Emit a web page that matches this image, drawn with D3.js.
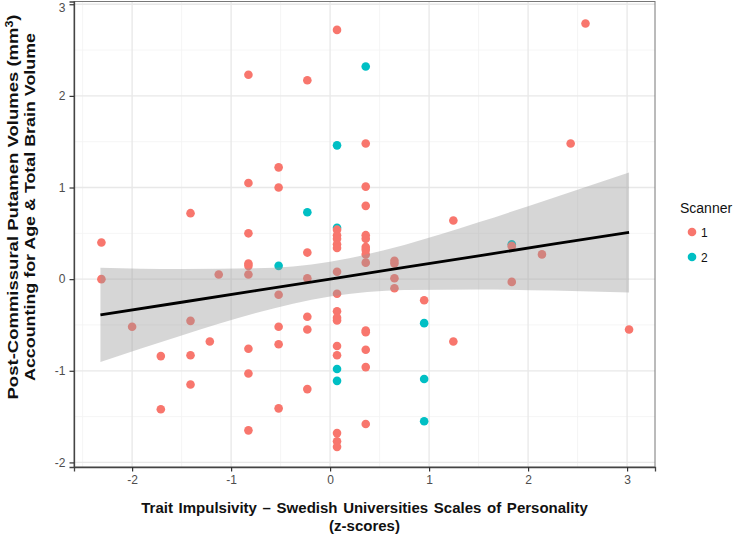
<!DOCTYPE html>
<html><head><meta charset="utf-8">
<script src="https://cdn.jsdelivr.net/npm/d3@7"></script>
<style>body{margin:0;background:#fff} text{font-family:Arial,"Liberation Sans",sans-serif}</style>
</head><body><svg id="c" width="740" height="540"></svg>
<script>
// Scanner 1 points
const s1X = [-2.31,-2.31,-2.00,-1.71,-1.71,-1.41,-1.41,-1.41,-1.41,-1.215,-1.125,
  -0.825,-0.825,-0.825,-0.825,-0.825,-0.825,-0.825,-0.825,-0.825,
  -0.52,-0.52,-0.52,-0.52,-0.52,-0.52,
  -0.23,-0.23,-0.23,-0.23,-0.23,-0.23,
  0.07,0.07,0.07,0.07,0.07,0.07,0.07,0.07,0.07,0.07,0.07,0.07,0.07,0.07,0.07,0.07,
  0.36,0.36,0.36,0.36,0.36,0.36,0.36,0.36,0.36,0.36,0.36,0.36,0.36,0.36,
  0.65,0.65,0.65,0.65,0.95,1.245,1.245,1.835,1.835,2.14,2.43,2.58,3.02];
const s1Y = [0.40,0.00,-0.52,-0.84,-1.42,0.72,-0.455,-0.83,-1.15,-0.68,0.05,
  2.23,1.05,0.50,0.17,0.145,0.05,-0.76,-1.03,-1.65,
  1.22,1.00,-0.17,-0.52,-0.71,-1.41,
  2.17,0.29,0.01,-0.41,-0.55,-1.20,
  2.72,0.54,0.48,0.44,0.38,0.34,0.08,-0.16,-0.35,-0.42,-0.45,-0.73,-0.83,-1.68,-1.77,-1.83,
  1.48,1.01,0.80,0.48,0.44,0.35,0.32,0.27,0.18,-0.56,-0.58,-0.77,-0.96,-1.58,
  0.20,0.17,0.01,-0.10,-0.23,0.64,-0.68,0.36,-0.03,0.27,1.48,2.79,-0.55];
// Scanner 2 points
const s2X = [-0.52,-0.23,0.07,0.07,0.07,0.07,0.36,0.95,0.95,0.95,1.835];
const s2Y = [0.145,0.73,1.46,0.56,-0.98,-1.11,2.32,-0.48,-1.09,-1.55,0.38];
// linear fit with 95% band
const fitX     = [-2.32,-1.5,-0.75,0,0.75,1.5,2.25,3.02];
const fitY     = [-0.39,-0.252,-0.126,0.001,0.128,0.254,0.381,0.51];
const fitLower = [-0.905,-0.615,-0.37,-0.189,-0.118,-0.112,-0.124,-0.145];
const fitUpper = [0.125,0.111,0.118,0.191,0.374,0.62,0.886,1.165];
const xTicks = [-2,-1,0,1,2,3];
const yTicks = [-2,-1,0,1,2,3];
const legendLabels = ["1","2"];
const colors = ["#F8766D","#00BFC4"];

const svg = d3.select("#c");
const L=74, R=655, T=1.5, B=467;
const x = d3.scaleLinear().domain([-2.587,3.282]).range([L,R]);
const y = d3.scaleLinear().domain([-2.05,3.03]).range([B,T]);

// grid
const g = svg.append("g");
const minorX = d3.range(-2.5,3.5,1), minorY = d3.range(-1.5,3.0,1);
g.selectAll(".mx").data(minorX).join("line").attr("x1",d=>x(d)).attr("x2",d=>x(d)).attr("y1",T).attr("y2",B).attr("stroke","#f2f2f2").attr("stroke-width",0.8);
g.selectAll(".my").data(minorY).join("line").attr("y1",d=>y(d)).attr("y2",d=>y(d)).attr("x1",L).attr("x2",R).attr("stroke","#f2f2f2").attr("stroke-width",0.8);
g.selectAll(".Mx").data(xTicks).join("line").attr("x1",d=>x(d)).attr("x2",d=>x(d)).attr("y1",T).attr("y2",B).attr("stroke","#e8e8e8").attr("stroke-width",1.3);
g.selectAll(".My").data(yTicks).join("line").attr("y1",d=>y(d)).attr("y2",d=>y(d)).attr("x1",L).attr("x2",R).attr("stroke","#e8e8e8").attr("stroke-width",1.3);

// points: scanner 2 first, then scanner 1
svg.append("g").selectAll("circle").data(s2X.map((d,i)=>[d,s2Y[i]])).join("circle")
  .attr("cx",d=>x(d[0])).attr("cy",d=>y(d[1])).attr("r",4.3).attr("fill",colors[1]);
svg.append("g").selectAll("circle").data(s1X.map((d,i)=>[d,s1Y[i]])).join("circle")
  .attr("cx",d=>x(d[0])).attr("cy",d=>y(d[1])).attr("r",4.3).attr("fill",colors[0]);

// band & line
const band = fitX.map((d,i)=>({x:d,lo:fitLower[i],hi:fitUpper[i],f:fitY[i]}));
svg.append("path").datum(band)
  .attr("d",d3.area().x(d=>x(d.x)).y0(d=>y(d.lo)).y1(d=>y(d.hi)).curve(d3.curveMonotoneX))
  .attr("fill","#999999").attr("fill-opacity",0.4);
svg.append("path").datum(band)
  .attr("d",d3.line().x(d=>x(d.x)).y(d=>y(d.f)))
  .attr("fill","none").attr("stroke","#000").attr("stroke-width",2.8);

// border
svg.append("rect").attr("x",L).attr("y",T).attr("width",R-L).attr("height",B-T)
  .attr("fill","none").attr("stroke","#777").attr("stroke-width",1);

// axes
const ax = svg.append("g").attr("transform",`translate(0,${B})`)
  .call(d3.axisBottom(x).tickValues(xTicks).tickSize(4.5).tickPadding(4).tickFormat(d3.format("d")));
const ay = svg.append("g").attr("transform",`translate(${L},0)`)
  .call(d3.axisLeft(y).tickValues(yTicks).tickSize(4.5).tickPadding(4).tickFormat(d3.format("d")));
[ax,ay].forEach(a=>{
  a.select(".domain").attr("stroke","#444").attr("stroke-width",1.3);
  a.selectAll(".tick line").attr("stroke","#333").attr("stroke-width",1.2);
  a.selectAll(".tick text").attr("fill","#4d4d4d").style("font-size","12px").style("font-family","Arial,'Liberation Sans',sans-serif");
});
ax.selectAll(".tick text").text(d=>d<0?"-"+Math.abs(d):d);
ay.selectAll(".tick text").text(d=>d<0?"-"+Math.abs(d):d);
// keep the top label inside the picture
ay.selectAll(".tick text").filter(d=>d===3).attr("dy","0.62em");

// titles
const xt = svg.append("text").attr("text-anchor","middle").attr("font-weight","bold").attr("font-size",15).attr("fill","#111").style("word-spacing","1.5px");
xt.append("tspan").attr("x",(L+R)/2).attr("y",513).text("Trait Impulsivity \u2013 Swedish Universities Scales of Personality");
xt.append("tspan").attr("x",(L+R)/2).attr("y",531).text("(z-scores)");

const yt1 = svg.append("text").attr("text-anchor","middle").attr("font-weight","bold").attr("font-size",15).attr("fill","#111")
  .attr("transform","translate(0,207) rotate(-90)").attr("x",0).attr("y",18)
  .attr("textLength",385).attr("lengthAdjust","spacingAndGlyphs");
yt1.append("tspan").text("Post-Commissural Putamen Volumes (mm");
yt1.append("tspan").attr("dy",-5).attr("font-size",10).text("3");
yt1.append("tspan").attr("dy",5).text(")");
svg.append("text").attr("text-anchor","middle").attr("font-weight","bold").attr("font-size",15).attr("fill","#111")
  .attr("transform","translate(0,207) rotate(-90)").attr("x",0).attr("y",35)
  .attr("textLength",348).attr("lengthAdjust","spacingAndGlyphs")
  .text("Accounting for Age & Total Brain Volume");

// legend
const lg = svg.append("g");
lg.append("text").attr("x",680).attr("y",213).attr("font-size",14).attr("fill","#111").text("Scanner");
lg.selectAll("circle").data(legendLabels).join("circle")
  .attr("cx",692).attr("cy",(d,i)=>232+i*25).attr("r",4.3).attr("fill",(d,i)=>colors[i]);
lg.selectAll(".lt").data(legendLabels).join("text")
  .attr("x",701).attr("y",(d,i)=>237+i*25).attr("font-size",12).attr("fill","#111").text(d=>d);
</script></body></html>
